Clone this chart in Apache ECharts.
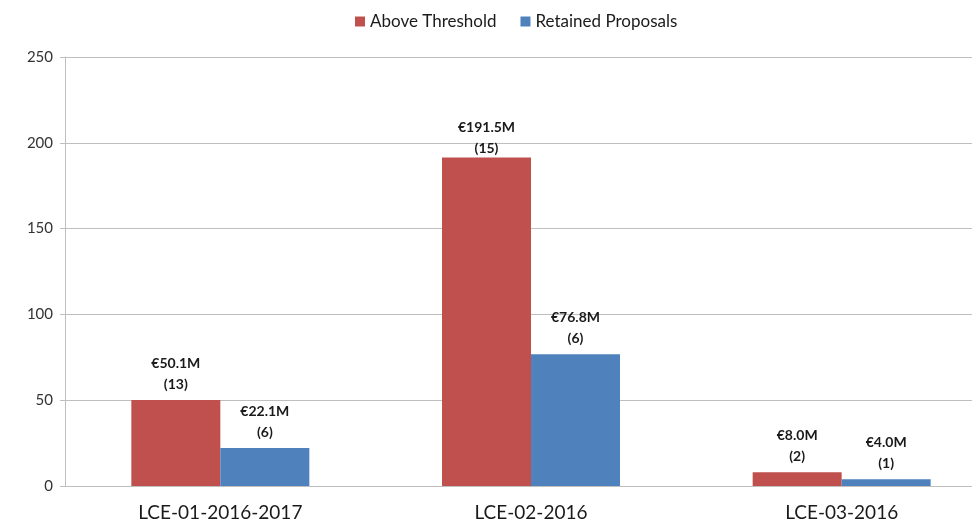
<!DOCTYPE html>
<html>
<head>
<meta charset="utf-8">
<script src="https://cdn.jsdelivr.net/npm/echarts@6/dist/echarts.min.js"></script>
<style>html,body{margin:0;padding:0;background:#fff;overflow:hidden;width:972px;height:523px}#c{width:997px;height:523px}</style>
</head>
<body>
<div id="c"></div>
<script>
const categories = ['LCE-01-2016-2017', 'LCE-02-2016', 'LCE-03-2016'];
const seriesNames = ['Above Threshold', 'Retained Proposals'];
const aboveValues = [50.1, 191.5, 8.0];
const aboveCounts = [13, 15, 2];
const retainedValues = [22.1, 76.8, 4.0];
const retainedCounts = [6, 6, 1];
const yTicks = [0, 50, 100, 150, 200, 250];

const FONT = 'Lato, "Open Sans", "Noto Sans", sans-serif';
const chart = echarts.init(document.getElementById('c'), null, {renderer: 'canvas'});

function labelFor(counts) {
  return {
    show: true,
    position: 'top',
    distance: 5,
    fontFamily: FONT,
    fontWeight: 'bold',
    fontSize: 14,
    lineHeight: 21,
    color: '#1a1a1a',
    formatter: p => '€' + p.value.toFixed(1) + 'M\n(' + counts[p.dataIndex] + ')'
  };
}

// the tallest bar's label sits a little closer to the bar (as in the original)
const aboveData = aboveValues.map((v, i) =>
  i === 1 ? {value: v, label: {distance: -2}} : v);

chart.setOption({
  animation: false,
  backgroundColor: '#fff',
  legend: {
    top: 8,
    left: 350,
    itemWidth: 10,
    itemHeight: 10,
    itemGap: 24,
    icon: 'rect',
    textStyle: {fontFamily: FONT, fontSize: 17, color: '#1a1a1a'},
    data: seriesNames
  },
  grid: {left: 65, top: 57, bottom: 37, right: 0, containLabel: false},
  xAxis: {
    type: 'category',
    data: categories,
    axisLine: {show: true, lineStyle: {color: '#bfbfbf', width: 1}},
    axisTick: {show: false},
    axisLabel: {fontFamily: FONT, fontSize: 19, color: '#1a1a1a', margin: 17}
  },
  yAxis: {
    type: 'value',
    min: yTicks[0],
    max: yTicks[yTicks.length - 1],
    interval: 50,
    axisLine: {show: true, lineStyle: {color: '#bfbfbf', width: 1}},
    axisTick: {show: true, length: 5, lineStyle: {color: '#bfbfbf'}},
    axisLabel: {fontFamily: FONT, fontSize: 15, color: '#333', margin: 12},
    splitLine: {show: true, lineStyle: {color: '#bfbfbf', width: 1}}
  },
  series: [
    {
      name: seriesNames[0],
      type: 'bar',
      data: aboveData,
      barWidth: 89,
      barGap: '0%',
      itemStyle: {color: '#c0504d'},
      label: labelFor(aboveCounts)
    },
    {
      name: seriesNames[1],
      type: 'bar',
      data: retainedValues,
      barWidth: 89,
      barGap: '0%',
      itemStyle: {color: '#4f81bd'},
      label: labelFor(retainedCounts)
    }
  ]
});
</script>
</body>
</html>
